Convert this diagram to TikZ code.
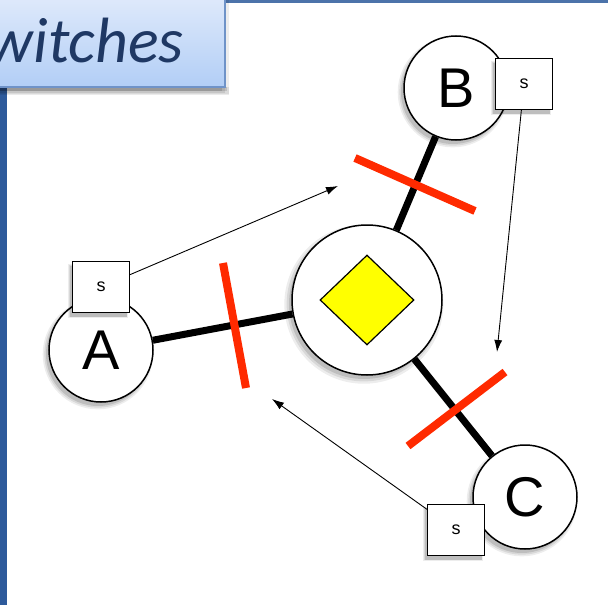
\documentclass[tikz,border=0pt]{standalone}
\usepackage{fontspec}
\setmainfont{Liberation Sans}
\newfontfamily\titlefont{Carlito}
\usetikzlibrary{shapes.geometric,arrows.meta,shadows}
\definecolor{titletop}{HTML}{E0EAFB}
\definecolor{titlebot}{HTML}{B2CEF6}
\definecolor{titleborder}{HTML}{6F93C8}
\definecolor{titletext}{HTML}{1F3864}
\definecolor{barblue}{HTML}{2D5A9B}
\definecolor{cutred}{HTML}{FF2A00}
\definecolor{diamondyellow}{HTML}{FFFF00}
\pgfdeclarelayer{bg}
\pgfsetlayers{bg,main}
\tikzset{
  shade/.style={
    general shadow={shadow xshift=-3pt,shadow yshift=-4pt,shadow scale=1.06,opacity=.07,fill=black},
    general shadow={shadow xshift=-3pt,shadow yshift=-4pt,shadow scale=1.03,opacity=.09,fill=black},
    general shadow={shadow xshift=-3pt,shadow yshift=-4pt,opacity=.12,fill=black}},
  host/.style={circle,draw=black,line width=1.5pt,fill=white,minimum size=104pt,inner sep=0pt,font=\fontsize{56}{56}\selectfont,shade},
  hub/.style={circle,draw=black,line width=1.5pt,fill=white,minimum size=150pt,inner sep=0pt,shade},
  sbox/.style={rectangle,draw=black,line width=1.2pt,fill=white,minimum width=57pt,minimum height=51pt,inner sep=0pt,font=\fontsize{18}{18}\selectfont,shade},
  link/.style={line width=7pt,black},
  cut/.style={line width=8pt,cutred},
  msg/.style={line width=0.9pt,-{Latex[length=12pt,width=8pt]}},
}
\begin{document}
\begin{tikzpicture}[x=1pt,y=-1pt]
\useasboundingbox (0,0) rectangle (608,605);
% frame pieces
\fill[barblue] (0,87) rectangle (7,605);
\fill[barblue!85!white] (225,0) rectangle (608,2.5);
% title box
\fill[black,opacity=.08] (-5,87) rectangle (229,95);
\fill[black,opacity=.12] (-5,87) rectangle (227,91);
\shade[top color=titletop,bottom color=titlebot,draw=titleborder,line width=1.5pt] (-5,-5) rectangle (225,87);
\node[anchor=base east,text=titletext,font=\titlefont\itshape\fontsize{64}{64}\selectfont,inner sep=0pt] (title) at (184,62) {witches};
% hosts
\node[hub] (hub) at (367,300) {};
\node[diamond,draw=black,line width=1.2pt,fill=diamondyellow,minimum width=94pt,minimum height=90pt,inner sep=0pt] (dia) at (367,300) {};
\node[host] (A) at (101,350) {A};
\node[host] (B) at (456,88) {B};
\node[host] (C) at (525,497) {C};
\begin{pgfonlayer}{bg}
\draw[link] (A) -- (hub);
\draw[link] (B) -- (hub);
\draw[link] (C) -- (hub);
\end{pgfonlayer}
% switch boxes
\node[sbox] (sA) at (101,287) {s};
\node[sbox] (sB) at (524,84) {s};
\node[sbox] (sC) at (456,530) {s};
% cuts
\coordinate (cB1) at (355,158); \coordinate (cB2) at (475,211);
\coordinate (cA1) at (223,263); \coordinate (cA2) at (246,388);
\coordinate (cC1) at (505,372); \coordinate (cC2) at (408,446);
\draw[cut] (cB1) -- (cB2);
\draw[cut] (cA1) -- (cA2);
\draw[cut] (cC1) -- (cC2);
% messages
\coordinate (tA) at (338,186);
\coordinate (tB) at (497,352);
\coordinate (tC) at (272,399);
\draw[msg] (sA) -- (tA);
\draw[msg] (sB) -- (tB);
\draw[msg] (sC) -- (tC);
\end{tikzpicture}
\end{document}
